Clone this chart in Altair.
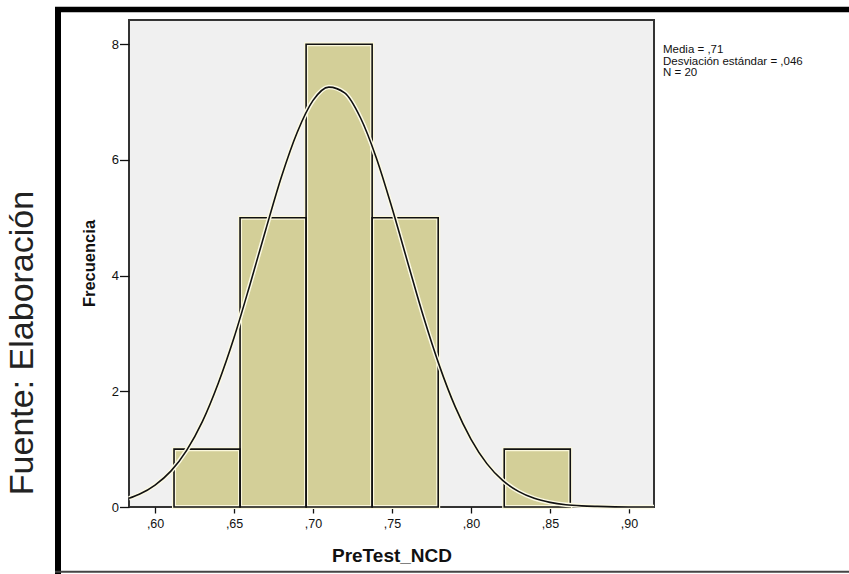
import altair as alt
import pandas as pd

# ---- data ----
bin_left = [0.612, 0.6538, 0.6956, 0.7374, 0.7792, 0.8210]
bin_right = [0.6538, 0.6956, 0.7374, 0.7792, 0.8210, 0.8628]
counts = [1, 5, 8, 5, 0, 1]

curve_x = [0.5835, 0.59, 0.60, 0.61, 0.62, 0.63, 0.64, 0.65, 0.66, 0.67, 0.68,
           0.69, 0.70, 0.71, 0.72, 0.73, 0.74, 0.75, 0.76, 0.77, 0.78, 0.79,
           0.80, 0.81, 0.82, 0.83, 0.84, 0.85, 0.86, 0.87, 0.88, 0.90, 0.9158]
curve_y = [0.15, 0.22, 0.38, 0.62, 0.98, 1.48, 2.14, 2.93, 3.84, 4.79, 5.71,
           6.48, 7.03, 7.26, 7.16, 6.73, 6.04, 5.17, 4.22, 3.28, 2.44, 1.73,
           1.17, 0.75, 0.46, 0.27, 0.15, 0.08, 0.04, 0.02, 0.01, 0.0, 0.0]

x_ticks = [0.60, 0.65, 0.70, 0.75, 0.80, 0.85, 0.90]
y_ticks = [0, 2, 4, 6, 8]
stats_lines = ["Media = ,71", "Desviación estándar = ,046", "N = 20"]
side_note = "Fuente: Elaboración"
x_title = "PreTest_NCD"
y_title = "Frecuencia"

FONT = "Liberation Sans"

bars_df = pd.DataFrame({"x0": bin_left, "x1": bin_right, "n": counts})
curve_df = pd.DataFrame({"x": curve_x, "y": curve_y})
one = pd.DataFrame({"a": [0]})

xscale = alt.Scale(domain=[0.5835, 0.9158], nice=False, zero=False)
yscale = alt.Scale(domain=[0, 8.42], nice=False)

xaxis = alt.Axis(values=x_ticks, title=x_title,
                 labelExpr="replace(format(datum.value, '.2f'), '0.', ',')",
                 tickSize=6, tickWidth=1.3, labelPadding=4, labelFontSize=12.5,
                 labelFont=FONT, titleFont=FONT, titleFontSize=19,
                 titleFontWeight="bold", titleY=54, titleBaseline="alphabetic",
                 titleColor="#111", domain=False, grid=False, tickColor="#111",
                 labelColor="#111")
yaxis = alt.Axis(values=y_ticks, title=y_title, format="d",
                 tickSize=9.5, tickWidth=1.3, labelPadding=1, labelFontSize=13,
                 labelFont=FONT, titleFont=FONT, titleFontSize=16.5,
                 titleFontWeight="bold", titleX=-39.5, titleY=243,
                 titleAngle=270, titleAlign="center", titleBaseline="middle",
                 titleColor="#111", domain=False, grid=False, tickColor="#111",
                 labelColor="#111")

base = alt.Chart(bars_df).transform_filter("datum.n > 0")

bars_halo = base.mark_rect(fill="#d3cf98", stroke="#fbf8dc", strokeWidth=4).encode(
    x=alt.X("x0:Q", scale=xscale, axis=xaxis),
    x2="x1:Q",
    y=alt.Y("n:Q", scale=yscale, axis=yaxis),
    y2=alt.datum(0),
)
bars_edge = base.mark_rect(fill=None, stroke="#111", strokeWidth=1.6).encode(
    x=alt.X("x0:Q", scale=xscale), x2="x1:Q",
    y=alt.Y("n:Q", scale=yscale), y2=alt.datum(0),
)

curve_halo = alt.Chart(curve_df).mark_line(color="#fdfbe6", strokeWidth=4.5,
                                           interpolate="monotone").encode(
    x=alt.X("x:Q", scale=xscale), y=alt.Y("y:Q", scale=yscale))
curve = alt.Chart(curve_df).mark_line(color="#111", strokeWidth=1.6,
                                      interpolate="monotone").encode(
    x=alt.X("x:Q", scale=xscale), y=alt.Y("y:Q", scale=yscale))

stats = alt.Chart(one).mark_text(align="left", baseline="alphabetic", font=FONT,
                                 fontSize=11.5, lineHeight=11.5, color="#111").encode(
    x=alt.value(534), y=alt.value(33), text=alt.value(stats_lines))

note = alt.Chart(one).mark_text(align="center", baseline="alphabetic", font=FONT,
                                fontSize=34, angle=270, color="#222").encode(
    x=alt.value(-96), y=alt.value(323), text=alt.value(side_note))

frame_left = alt.Chart(one).mark_rule(color="#000", strokeWidth=6).encode(
    x=alt.value(-71), y=alt.value(-13), y2=alt.value(560))
frame_top = alt.Chart(one).mark_rule(color="#000", strokeWidth=5.6).encode(
    y=alt.value(-10.5), x=alt.value(-74), x2=alt.value(730))
frame_bottom = alt.Chart(one).mark_rule(color="#444", strokeWidth=2).encode(
    y=alt.value(551.7), x=alt.value(-74), x2=alt.value(730))

chart = alt.layer(
    bars_halo, bars_edge, curve_halo, curve, stats, note,
    frame_left, frame_top, frame_bottom,
).properties(
    width=525, height=487,
    padding={"left": 129, "top": 20, "right": 195, "bottom": 67},
    autosize=alt.AutoSizeParams(type="none"),
    background="white",
).configure_view(
    fill="#f0f0f0", stroke="#333", strokeWidth=2,
)

chart.save("out.html", embed_options={"renderer": "svg", "actions": False})
